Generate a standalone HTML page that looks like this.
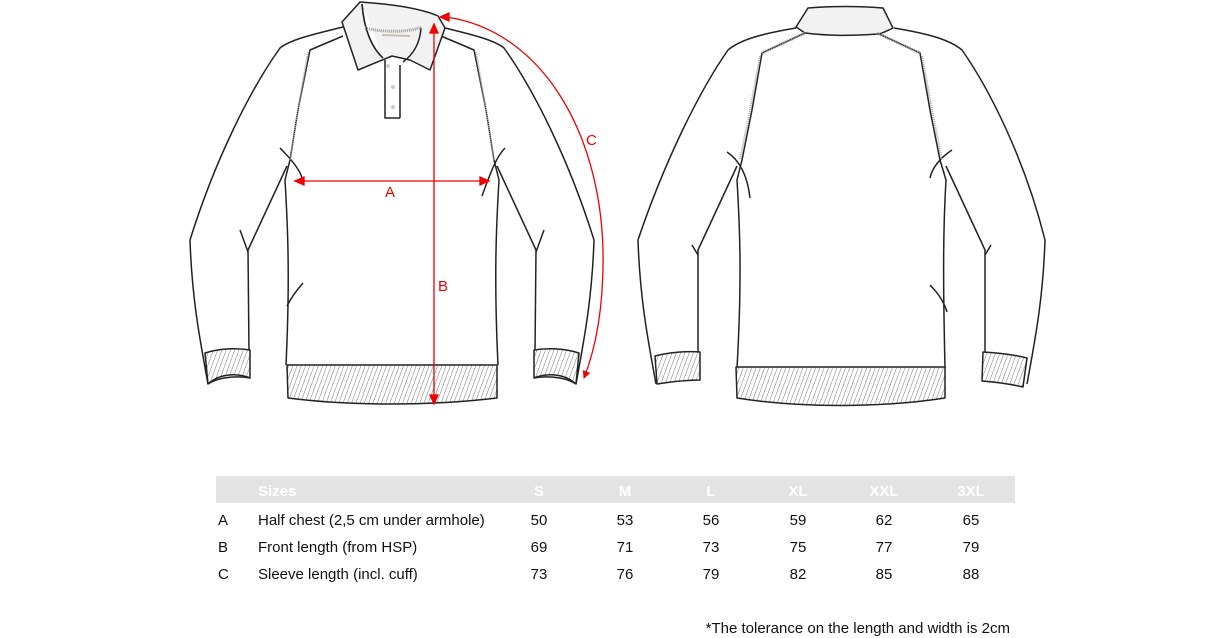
<!DOCTYPE html>
<html><head><meta charset="utf-8"><style>
html,body{margin:0;padding:0;background:#fff;}
body{width:1230px;height:638px;position:relative;overflow:hidden;font-family:"Liberation Sans",Arial,sans-serif;}
.t{position:absolute;font-size:15px;color:#111;white-space:nowrap;}
.h{position:absolute;left:216px;top:476px;width:799px;height:27px;background:#e3e3e3;}
.hw{position:absolute;font-size:15px;font-weight:bold;color:#fff;top:483px;}
.c{transform:translateX(-50%);}
</style></head><body>
<svg width="1230" height="460" style="position:absolute;left:0;top:0" xmlns="http://www.w3.org/2000/svg">
<defs>
<pattern id="hatch" width="4" height="4" patternUnits="userSpaceOnUse" patternTransform="rotate(20)">
<rect width="4" height="4" fill="#fff"/><line x1="0" y1="0" x2="0" y2="4" stroke="#777" stroke-width="1"/></pattern>
<marker id="ar" markerWidth="8" markerHeight="8" refX="7" refY="4" orient="auto" markerUnits="userSpaceOnUse"><path d="M0,0 L8,4 L0,8 Z" fill="#e00"/></marker>
</defs>
<g fill="none" stroke="#222" stroke-width="1.5" stroke-linejoin="round">
<!-- FRONT -->
<path d="M343,27 C310,35 290,40 280,48 C250,90 215,160 190,240 C192,300 200,340 208,384" fill="#fff"/>
<path d="M441,27 C474,35 494,40 504,48 C534,90 569,160 594,240 C592,300 584,340 576,384" fill="#fff"/>
<path d="M343,36 L310,50 L298,110 L290,160 L285,180 C288,230 290,280 286,365"/>
<path d="M441,36 L474,50 L486,110 L494,160 L499,180 C496,230 494,280 498,365"/>
<path d="M287,166 L248,250 L249,352"/>
<path d="M497,166 L536,250 L535,352"/>
<path d="M240,230 L248,252"/><path d="M544,230 L536,252"/>
<path d="M280,148 C292,160 300,170 302,178"/><path d="M505,148 C495,158 488,180 482,196"/>
<path d="M303,283 C295,292 290,300 287,306"/>
<path d="M205,353 C220,348 238,348 250,350 L250,378 C238,373 220,373 208,384 Z" fill="url(#hatch)"/>
<path d="M579,353 C564,348 546,348 534,350 L534,378 C546,373 564,373 576,384 Z" fill="url(#hatch)"/>
<path d="M287,365 L497,365 L497,398 C430,406 350,406 288,398 Z" fill="url(#hatch)"/>
<path d="M208,384 C220,376 240,376 250,378"/><path d="M576,384 C564,376 544,376 534,378"/>
<!-- collar -->
<path d="M342,22 L360,2 C390,4 420,8 438,16 L445,28 L430,70 L410,60 L392,56 L358,70 Z" fill="#f2f2f2"/>
<path d="M362,4 C364,30 372,48 383,58" fill="#fff"/>
<path d="M362,4 C364,30 372,48 383,58"/>
<path d="M421,28 C420,42 414,54 403,62"/>
<path d="M365,28 C385,33 410,32 422,27" stroke="#999" stroke-width="3" stroke-dasharray="1 1"/>
<path d="M382,35 L410,36" stroke="#c8bfb0" stroke-width="2"/>
<path d="M385,60 L385,118 L400,118 M400,118 L400,65"/>
<circle cx="388" cy="66" r="2" fill="#ccc" stroke="none"/><circle cx="393" cy="87" r="2" fill="#ccc" stroke="none"/><circle cx="393" cy="107" r="2" fill="#ccc" stroke="none"/>
<!-- BACK -->
<path d="M796,28 C760,34 740,40 728,50 C700,90 665,160 638,240 C640,300 648,340 656,384" fill="#fff"/>
<path d="M894,28 C930,34 950,40 962,50 C990,90 1025,160 1045,240 C1043,300 1035,340 1027,384" fill="#fff"/>
<path d="M805,33 L762,53 L752,110 L742,160 L737,180 C740,230 742,280 737,368"/>
<path d="M877,33 L920,53 L930,110 L940,160 L946,180 C943,230 943,280 945,368"/>
<path d="M737,166 L698,250 L698,352"/><path d="M946,166 L985,250 L985,352"/>
<path d="M692,245 L698,255"/><path d="M991,245 L985,255"/>
<path d="M727,152 C742,162 748,180 750,198"/><path d="M952,150 C940,158 932,168 930,178"/>
<path d="M930,285 C940,295 945,305 947,312"/>
<path d="M655,356 C670,352 688,351 700,352 L700,380 C688,380 670,382 657,384 Z" fill="url(#hatch)"/>
<path d="M983,352 C1000,353 1015,355 1027,358 L1023,387 C1010,384 995,382 982,381 Z" fill="url(#hatch)"/>
<path d="M736,367 L945,367 L945,398 C880,408 800,408 737,398 Z" fill="url(#hatch)"/>
<path d="M796,27 L808,8 C830,6 860,6 883,8 L893,28 C885,32 880,34 878,34 C850,36 830,36 805,33 Z" fill="#f2f2f2"/>
<path d="M762,53 L805,33 M877,33 L920,53" stroke="#999" stroke-width="3" stroke-dasharray="1 1"/>
</g>
<g stroke="#aaa" stroke-width="2" stroke-dasharray="1 1" fill="none">
<path d="M308,52 L298,110 L290,160"/><path d="M476,52 L486,110 L494,160"/>
<path d="M760,56 L750,110 L740,160"/><path d="M922,56 L932,110 L942,160"/>
</g>
<!-- red dimensions -->
<g stroke="#e00" stroke-width="1.3" fill="none">
<line x1="295" y1="181" x2="489" y2="181"/>
<path d="M295,181 l9,-4 v8 z M489,181 l-9,-4 v8 z" fill="#e00"/>
<line x1="434" y1="32" x2="434" y2="396"/>
<path d="M434,24 l-4,9 h8 z M434,404 l-4,-9 h8 z" fill="#e00"/>
<path d="M446,17 C540,30 600,130 603,250 C604,310 595,350 584,378" marker-end="url(#ar)"/>
<path d="M440,17 l9,-4 v8 z" fill="#e00"/>
</g>
<g fill="#e00" font-family="Liberation Sans,Arial,sans-serif" font-size="15">
<text x="385" y="197">A</text><text x="438" y="291">B</text><text x="586" y="145">C</text>
</g>
</svg>
<div class="h"></div>
<div class="hw" style="left:258px">Sizes</div>
<div class="hw c" style="left:539px">S</div>
<div class="hw c" style="left:625px">M</div>
<div class="hw c" style="left:711px">L</div>
<div class="hw c" style="left:798px">XL</div>
<div class="hw c" style="left:884px">XXL</div>
<div class="hw c" style="left:971px">3XL</div>

<div class="t" style="left:218px;top:512px">A</div><div class="t" style="left:258px;top:512px">Half chest (2,5 cm under armhole)</div>
<div class="t c" style="left:539px;top:512px">50</div><div class="t c" style="left:625px;top:512px">53</div><div class="t c" style="left:711px;top:512px">56</div><div class="t c" style="left:798px;top:512px">59</div><div class="t c" style="left:884px;top:512px">62</div><div class="t c" style="left:971px;top:512px">65</div>

<div class="t" style="left:218px;top:539px">B</div><div class="t" style="left:258px;top:539px">Front length (from HSP)</div>
<div class="t c" style="left:539px;top:539px">69</div><div class="t c" style="left:625px;top:539px">71</div><div class="t c" style="left:711px;top:539px">73</div><div class="t c" style="left:798px;top:539px">75</div><div class="t c" style="left:884px;top:539px">77</div><div class="t c" style="left:971px;top:539px">79</div>

<div class="t" style="left:218px;top:566px">C</div><div class="t" style="left:258px;top:566px">Sleeve length (incl. cuff)</div>
<div class="t c" style="left:539px;top:566px">73</div><div class="t c" style="left:625px;top:566px">76</div><div class="t c" style="left:711px;top:566px">79</div><div class="t c" style="left:798px;top:566px">82</div><div class="t c" style="left:884px;top:566px">85</div><div class="t c" style="left:971px;top:566px">88</div>

<div class="t" style="right:220px;top:620px">*The tolerance on the length and width is 2cm</div>
</body></html>
